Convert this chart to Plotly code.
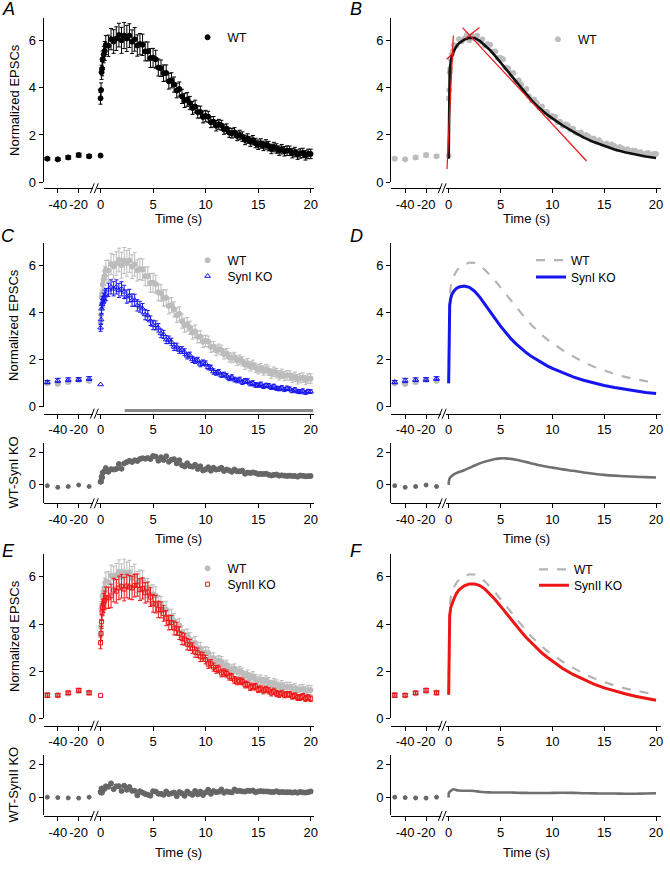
import plotly.graph_objects as go

W, H = 670, 870
FONT = "Arial, 'Liberation Sans', Helvetica, sans-serif"

# ---------------- data ----------------
t_pre = [-50, -40, -30, -20, -10]
wt_pre = [1.00, 0.97, 1.05, 1.15, 1.10]
wt_pre_err = [0.05, 0.05, 0.07, 0.08, 0.06]
ko1_pre = [1.05, 1.12, 1.15, 1.16, 1.20]
ko1_pre_err = [0.07, 0.09, 0.08, 0.08, 0.08]
ko2_pre = [0.98, 0.98, 1.08, 1.19, 1.08]
ko2_pre_err = [0.09, 0.07, 0.07, 0.08, 0.08]

t_zero = [0]
wt_zero = [1.13]
ko1_zero = [0.95]
ko2_zero = [0.97]

t_post = [0, 0.05, 0.1, 0.15, 0.2, 0.3, 0.4] + [0.5 + 0.25 * i for i in range(79)]

wt = [3.55, 3.90, 4.65, 4.80, 5.20, 5.40, 5.55,
      5.80, 5.77,
      6.05, 5.95, 6.07, 6.22,
      6.00, 6.20, 6.08, 6.20,
      5.94, 6.04, 5.78, 5.84,
      5.81, 5.53, 5.53, 5.25,
      5.26, 5.20, 4.85, 4.82,
      4.61, 4.62, 4.27, 4.31,
      4.13, 3.88, 3.94, 3.63,
      3.46, 3.50, 3.35, 3.14,
      3.20, 2.97, 2.97, 2.76,
      2.80, 2.77, 2.54, 2.56,
      2.39, 2.45, 2.41, 2.23,
      2.27, 2.10, 2.07, 2.11,
      1.96, 2.00, 1.93, 1.79,
      1.85, 1.72, 1.78, 1.66,
      1.59, 1.64, 1.54, 1.60,
      1.53, 1.41, 1.49, 1.43,
      1.34, 1.40, 1.31, 1.34,
      1.33, 1.23, 1.28, 1.17,
      1.22, 1.24, 1.14, 1.20,
      1.20]
wt_err = [0.25, 0.30, 0.30, 0.30, 0.35, 0.35, 0.40,
          0.40, 0.45,
          0.45, 0.50, 0.50, 0.50,
          0.55, 0.55, 0.55, 0.50,
          0.50, 0.50, 0.45, 0.45,
          0.45, 0.40, 0.40, 0.40,
          0.40, 0.38, 0.36, 0.35,
          0.35, 0.34, 0.33, 0.32,
          0.32, 0.31, 0.30, 0.30,
          0.30, 0.29, 0.28, 0.27,
          0.27, 0.26, 0.25, 0.25,
          0.24, 0.23, 0.23, 0.22,
          0.22, 0.21, 0.21, 0.20,
          0.20, 0.20, 0.20, 0.20,
          0.20, 0.20, 0.20, 0.20,
          0.20, 0.20, 0.20, 0.20,
          0.20, 0.20, 0.20, 0.20,
          0.20, 0.20, 0.20, 0.20,
          0.20, 0.20, 0.20, 0.20,
          0.20, 0.20, 0.20, 0.20,
          0.20, 0.20, 0.20, 0.20,
          0.20]

ko1 = [3.35, 3.70, 4.15, 4.35, 4.45, 4.60, 4.70,
       4.76, 4.96,
       5.08, 5.00, 5.08, 4.93,
       5.00, 4.87, 4.67, 4.71,
       4.52, 4.52, 4.30, 4.24,
       4.16, 3.91, 3.87, 3.65,
       3.47, 3.45, 3.35, 3.11,
       3.07, 2.85, 2.84, 2.75,
       2.54, 2.55, 2.41, 2.41,
       2.32, 2.16, 2.19, 2.01,
       1.96, 1.98, 1.82, 1.87,
       1.84, 1.68, 1.66, 1.50,
       1.44, 1.48, 1.35, 1.37,
       1.32, 1.21, 1.26, 1.16,
       1.12, 1.16, 1.05, 1.10,
       1.09, 0.99, 1.01, 0.93,
       0.92, 0.96, 0.87, 0.91,
       0.90, 0.83, 0.87, 0.79,
       0.77, 0.81, 0.74, 0.79,
       0.76, 0.68, 0.73, 0.66,
       0.64, 0.68, 0.61, 0.66,
       0.65]
ko1_err = [0.15, 0.20, 0.20, 0.20, 0.22, 0.22, 0.25,
           0.25, 0.28,
           0.30, 0.30, 0.30, 0.30,
           0.30, 0.28, 0.28, 0.27,
           0.26, 0.25, 0.24, 0.23,
           0.22, 0.22, 0.21, 0.20,
           0.20, 0.19, 0.18, 0.18,
           0.17, 0.17, 0.16, 0.16,
           0.15, 0.15, 0.14, 0.14,
           0.14, 0.13, 0.13, 0.13,
           0.12, 0.12, 0.12, 0.12,
           0.11, 0.11, 0.11, 0.11,
           0.10, 0.10, 0.10, 0.10,
           0.10, 0.10, 0.10, 0.10,
           0.10, 0.10, 0.10, 0.10,
           0.10, 0.10, 0.10, 0.10,
           0.09, 0.09, 0.09, 0.09,
           0.09, 0.09, 0.09, 0.09,
           0.09, 0.09, 0.09, 0.09,
           0.08, 0.08, 0.08, 0.08,
           0.08, 0.08, 0.08, 0.08,
           0.08]

ko2 = [3.20, 3.60, 4.10, 4.50, 4.70, 4.90, 5.00,
       5.12, 5.11,
       5.19, 5.44, 5.39, 5.53,
       5.60, 5.48, 5.61, 5.56,
       5.53, 5.63, 5.65, 5.46,
       5.51, 5.32, 5.36, 5.14,
       4.88, 4.84, 4.62, 4.60,
       4.45, 4.25, 4.06, 4.06,
       3.83, 3.80, 3.61, 3.38,
       3.36, 3.14, 3.11, 2.98,
       2.80, 2.78, 2.61, 2.61,
       2.49, 2.30, 2.32, 2.17,
       2.07, 2.10, 1.92, 1.94,
       1.90, 1.77, 1.76, 1.62,
       1.57, 1.59, 1.56, 1.43,
       1.44, 1.32, 1.35, 1.34,
       1.22, 1.25, 1.17, 1.23,
       1.17, 1.08, 1.15, 1.05,
       1.02, 1.07, 0.99, 1.02,
       1.01, 0.93, 0.96, 0.88,
       0.88, 0.93, 0.84, 0.88,
       0.83]
ko2_err = [0.25, 0.30, 0.30, 0.35, 0.35, 0.40, 0.40,
           0.45, 0.45,
           0.50, 0.50, 0.50, 0.50,
           0.50, 0.50, 0.50, 0.50,
           0.50, 0.48, 0.47, 0.46,
           0.45, 0.43, 0.42, 0.40,
           0.38, 0.37, 0.35, 0.34,
           0.33, 0.32, 0.31, 0.30,
           0.29, 0.28, 0.27, 0.26,
           0.25, 0.24, 0.23, 0.22,
           0.21, 0.20, 0.20, 0.19,
           0.18, 0.18, 0.17, 0.17,
           0.16, 0.16, 0.16, 0.16,
           0.15, 0.15, 0.15, 0.15,
           0.15, 0.15, 0.14, 0.14,
           0.14, 0.14, 0.14, 0.14,
           0.13, 0.13, 0.13, 0.13,
           0.13, 0.13, 0.13, 0.13,
           0.13, 0.12, 0.12, 0.12,
           0.12, 0.12, 0.12, 0.12,
           0.12, 0.12, 0.12, 0.12,
           0.12]

# fitted curves (B, D, F)
t_fit = [0, 0.02, 0.05, 0.1, 0.2, 0.3, 0.5, 0.75, 1.0, 1.5, 2.0, 2.5, 3.0, 3.5, 4.0,
         4.5, 5.0, 5.5, 6.0, 6.5, 7.0, 7.5, 8.0, 8.5, 9.0, 9.5, 10, 11, 12, 13, 14,
         15, 16, 17, 18, 19, 20]
wt_fit = [1.0, 3.5, 4.3, 4.7, 5.1, 5.3, 5.55, 5.75, 5.88, 6.03, 6.11, 6.1, 5.98, 5.8,
          5.58, 5.33, 5.06, 4.78, 4.5, 4.22, 3.95, 3.7, 3.46, 3.24, 3.04, 2.86, 2.7,
          2.4, 2.14, 1.9, 1.7, 1.53, 1.39, 1.27, 1.17, 1.09, 1.03]
ko1_fit = [1.0, 3.3, 4.0, 4.3, 4.6, 4.75, 4.9, 5.02, 5.08, 5.12, 5.06, 4.9, 4.65, 4.36,
           4.05, 3.73, 3.42, 3.14, 2.89, 2.67, 2.47, 2.29, 2.13, 1.99, 1.86, 1.74, 1.63,
           1.44, 1.27, 1.13, 1.01, 0.91, 0.82, 0.74, 0.67, 0.61, 0.57]
ko2_fit = [1.0, 3.2, 4.0, 4.35, 4.7, 4.85, 5.05, 5.3, 5.45, 5.62, 5.7, 5.7, 5.63, 5.48,
           5.27, 5.03, 4.76, 4.48, 4.2, 3.93, 3.67, 3.42, 3.19, 2.97, 2.77, 2.59, 2.42,
           2.11, 1.86, 1.64, 1.45, 1.29, 1.15, 1.04, 0.94, 0.85, 0.77]

# tangent lines drawn on panel B
tan_rise_t = [-0.16, 0.45]
tan_rise_v = [0.56, 6.2]
tan_rise_cross_t = [-0.2, 0.55]
tan_rise_cross_v = [5.2, 5.5]
tan_peak_t = [1.63, 2.97]
tan_peak_v = [6.08, 6.54]
tan_decay_t = [1.34, 13.3]
tan_decay_v = [6.54, 0.9]

# significance bar in C (time span, s)
sig_span = [2.3, 20.25]

for arr in (wt, wt_err, ko1, ko1_err, ko2, ko2_err):
    assert len(arr) == len(t_post)
for arr in (wt_fit, ko1_fit, ko2_fit):
    assert len(arr) == len(t_fit)

diff1_pre = [a - b for a, b in zip(wt_pre, ko1_pre)]
diff2_pre = [a - b for a, b in zip(wt_pre, ko2_pre)]
diff1 = [a - b for a, b in zip(wt, ko1)]
diff2 = [a - b for a, b in zip(wt, ko2)]
diff1_fit = [a - b for a, b in zip(wt_fit, ko1_fit)]
diff2_fit = [a - b for a, b in zip(wt_fit, ko2_fit)]

# ---------------- colours ----------------
BLACK = "#000000"
GRAY = "#bcbcbc"
DGRAY = "#666666"
BLUE = "#1515f0"
RED = "#ee1515"

# ---------------- geometry ----------------
def fx(p):
    return p / W


def fy(p):
    return 1 - p / H


COLS = {
    "L": dict(pre=(43, 93), post=(97, 315), post_range=[-0.31, 20.28], mid=179),
    "R": dict(pre=(393, 443), post=(448, 665), post_range=[-0.29, 20.48], mid=529),
}
TOP_R = [0, 6.95]
BOT_R = [-1.1, 2.6]
ROWS = [
    # name, col, top px, bottom px, range, x-line px, yticks
    ("A", "L", 18, 184, TOP_R, 190, [0, 2, 4, 6]),
    ("B", "R", 18, 184, TOP_R, 190, [0, 2, 4, 6]),
    ("Ct", "L", 245, 410.7, TOP_R, 417.5, [0, 2, 4, 6]),
    ("Dt", "R", 245, 410.7, TOP_R, 417.5, [0, 2, 4, 6]),
    ("Cb", "L", 447, 507.3, BOT_R, 508, [0, 2]),
    ("Db", "R", 447, 507.3, BOT_R, 508, [0, 2]),
    ("Et", "L", 559.6, 725, TOP_R, 732.5, [0, 2, 4, 6]),
    ("Ft", "R", 559.6, 725, TOP_R, 732.5, [0, 2, 4, 6]),
    ("Eb", "L", 762, 823, BOT_R, 823.5, [0, 2]),
    ("Fb", "R", 762, 823, BOT_R, 823.5, [0, 2]),
]
ROW_IDX = {r[0]: i + 1 for i, r in enumerate(ROWS)}


def axname(letter, i):
    return letter if i == 1 else f"{letter}{i}"


def axkey(letter, i):
    return f"{letter}axis" if i == 1 else f"{letter}axis{i}"


def refs(row, part):
    k = ROW_IDX[row]
    xi = 2 * k - 1 if part == "pre" else 2 * k
    return dict(xaxis=axname("x", xi), yaxis=axname("y", k))


fig = go.Figure()


def add(row, part, **kw):
    kw.setdefault("showlegend", False)
    fig.add_trace(go.Scatter(**kw, **refs(row, part)))


def err(arr, color, w=2):
    return dict(type="data", array=arr, color=color, thickness=1, width=w, visible=True)


def mk(color, symbol="circle", size=5, lw=1):
    return dict(color=color, symbol=symbol, size=size, line=dict(color=color, width=lw))


# ---------- Panel A ----------
add("A", "pre", x=t_pre, y=wt_pre, mode="markers", marker=mk(BLACK), error_y=err(wt_pre_err, BLACK, 3))
add("A", "post", x=t_zero, y=wt_zero, mode="markers", marker=mk(BLACK))
add("A", "post", x=t_post, y=wt, mode="markers", marker=mk(BLACK), error_y=err(wt_err, BLACK),
    name="WT", showlegend=True, legend="legend")

# ---------- Panel B ----------
add("B", "pre", x=t_pre, y=wt_pre, mode="markers", marker=mk(GRAY), error_y=err(wt_pre_err, GRAY, 3))
add("B", "post", x=t_zero, y=wt_zero, mode="markers", marker=mk(GRAY))
add("B", "post", x=t_post, y=wt, mode="markers", marker=mk(GRAY, size=5),
    name="WT", showlegend=True, legend="legend2")
add("B", "post", x=t_fit, y=wt_fit, mode="lines", line=dict(color="#111111", width=2.6))
for tx, ty in ((tan_rise_t, tan_rise_v), (tan_rise_cross_t, tan_rise_cross_v),
               (tan_peak_t, tan_peak_v), (tan_decay_t, tan_decay_v)):
    add("B", "post", x=tx, y=ty, mode="lines", line=dict(color=RED, width=1.2))

# ---------- Panel C ----------
add("Ct", "pre", x=t_pre, y=wt_pre, mode="markers", marker=mk(GRAY), error_y=err(wt_pre_err, GRAY, 3))
add("Ct", "pre", x=t_pre, y=ko1_pre, mode="markers", marker=mk(BLUE, "triangle-up-open", 5),
    error_y=err(ko1_pre_err, BLUE, 3))
add("Ct", "post", x=t_post, y=wt, mode="markers", marker=mk(GRAY), error_y=err(wt_err, GRAY),
    name="WT", showlegend=True, legend="legend3")
add("Ct", "post", x=t_zero, y=ko1_zero, mode="markers", marker=mk(BLUE, "triangle-up-open", 5))
add("Ct", "post", x=t_post, y=ko1, mode="markers", marker=mk(BLUE, "triangle-up-open", 5),
    error_y=err(ko1_err, BLUE), name="SynI KO", showlegend=True, legend="legend4")
add("Cb", "pre", x=t_pre, y=diff1_pre, mode="markers", marker=mk(DGRAY, size=4))
add("Cb", "post", x=t_post, y=diff1, mode="markers", marker=mk(DGRAY, size=5))

# ---------- Panel D ----------
add("Dt", "pre", x=t_pre, y=wt_pre, mode="markers", marker=mk(GRAY), error_y=err(wt_pre_err, GRAY, 3))
add("Dt", "pre", x=t_pre, y=ko1_pre, mode="markers", marker=mk(BLUE, "triangle-up-open", 5),
    error_y=err(ko1_pre_err, BLUE, 3))
add("Dt", "post", x=t_fit, y=wt_fit, mode="lines", line=dict(color="#b4b4b4", width=2.2, dash="dash"),
    name="WT", showlegend=True, legend="legend5")
add("Dt", "post", x=t_fit, y=ko1_fit, mode="lines", line=dict(color=BLUE, width=3),
    name="SynI KO", showlegend=True, legend="legend6")
add("Db", "pre", x=t_pre, y=diff1_pre, mode="markers", marker=mk(DGRAY, size=4))
add("Db", "post", x=t_fit, y=diff1_fit, mode="lines",
    line=dict(color="#707070", width=2.6, shape="spline", smoothing=0.8))

# ---------- Panel E ----------
add("Et", "pre", x=t_pre, y=wt_pre, mode="markers", marker=mk(GRAY), error_y=err(wt_pre_err, GRAY, 3))
add("Et", "pre", x=t_pre, y=ko2_pre, mode="markers", marker=mk(RED, "square-open", 4),
    error_y=err(ko2_pre_err, RED, 3))
add("Et", "post", x=t_post, y=wt, mode="markers", marker=mk(GRAY), error_y=err(wt_err, GRAY),
    name="WT", showlegend=True, legend="legend7")
add("Et", "post", x=t_zero, y=ko2_zero, mode="markers", marker=mk(RED, "square-open", 4))
add("Et", "post", x=t_post, y=ko2, mode="markers", marker=mk(RED, "square-open", 4),
    error_y=err(ko2_err, RED), name="SynII KO", showlegend=True, legend="legend8")
add("Eb", "pre", x=t_pre, y=diff2_pre, mode="markers", marker=mk(DGRAY, size=4))
add("Eb", "post", x=t_post, y=diff2, mode="markers", marker=mk(DGRAY, size=5))

# ---------- Panel F ----------
add("Ft", "pre", x=t_pre, y=wt_pre, mode="markers", marker=mk(GRAY), error_y=err(wt_pre_err, GRAY, 3))
add("Ft", "pre", x=t_pre, y=ko2_pre, mode="markers", marker=mk(RED, "square-open", 4),
    error_y=err(ko2_pre_err, RED, 3))
add("Ft", "post", x=t_fit, y=wt_fit, mode="lines", line=dict(color="#b4b4b4", width=2.2, dash="dash"),
    name="WT", showlegend=True, legend="legend9")
add("Ft", "post", x=t_fit, y=ko2_fit, mode="lines", line=dict(color=RED, width=3),
    name="SynII KO", showlegend=True, legend="legend10")
add("Fb", "pre", x=t_pre, y=diff2_pre, mode="markers", marker=mk(DGRAY, size=4))
add("Fb", "post", x=t_fit, y=diff2_fit, mode="lines",
    line=dict(color="#707070", width=2.6, shape="spline", smoothing=0.8))

# ---------------- axes ----------------
common = dict(showline=True, linecolor="black", linewidth=1, ticks="outside", ticklen=4,
              tickwidth=1, tickcolor="black", showgrid=False, zeroline=False,
              tickfont=dict(size=13, color="black", family=FONT), fixedrange=True)
layout = {}
shapes = []
for name, col, top, bot, yr, xline, yt in ROWS:
    k = ROW_IDX[name]
    c = COLS[col]
    xi_pre, xi_post = 2 * k - 1, 2 * k
    layout[axkey("y", k)] = dict(common, domain=[fy(bot), fy(top)], range=yr,
                                 anchor=axname("x", xi_pre), tickvals=yt)
    layout[axkey("x", xi_pre)] = dict(common, domain=[fx(c["pre"][0]), fx(c["pre"][1])],
                                      range=[-53.5, -6], anchor="free", position=fy(xline),
                                      tickvals=[-40, -20], ticktext=["-40", "-20"])
    layout[axkey("x", xi_post)] = dict(common, domain=[fx(c["post"][0]), fx(c["post"][1])],
                                       range=c["post_range"], anchor="free", position=fy(xline),
                                       tickvals=[0, 5, 10, 15, 20])
    # axis break marks "//"
    cx = (c["pre"][1] + c["post"][0]) / 2
    for dx in (-5, -1):
        shapes.append(dict(type="line", xref="paper", yref="paper",
                           x0=fx(cx + dx), y0=fy(xline + 5), x1=fx(cx + dx + 4), y1=fy(xline - 5),
                           line=dict(color="black", width=1)))

# significance bar in C
k = ROW_IDX["Ct"]
shapes.append(dict(type="line", xref=axname("x", 2 * k), yref="paper",
                   x0=sig_span[0], x1=sig_span[1], y0=fy(414.2), y1=fy(414.2),
                   line=dict(color="#8a8a8a", width=3)))

annotations = []
# panel letters
for letter, (x, y) in {"A": (7.5, 9), "B": (358, 9), "C": (7.5, 238), "D": (358, 238),
                       "E": (7.5, 556), "F": (358, 556)}.items():
    annotations.append(dict(text=f"<i>{letter}</i>", x=fx(x), y=fy(y), xref="paper", yref="paper",
                            showarrow=False, xanchor="center", yanchor="middle",
                            font=dict(size=18, family=FONT, color="black")))
# x titles
for col, y in (("L", 221), ("R", 221), ("L", 543), ("R", 543), ("L", 860), ("R", 860)):
    annotations.append(dict(text="Time (s)", x=fx(COLS[col]["mid"]), y=fy(y), xref="paper",
                            yref="paper", showarrow=False, xanchor="center", yanchor="middle",
                            font=dict(size=13, family=FONT, color="black")))
# y titles
for txt, y in (("Normalized EPSCs", 101), ("Normalized EPSCs", 328), ("WT-SynI KO", 477),
               ("Normalized EPSCs", 642), ("WT-SynII KO", 792)):
    annotations.append(dict(text=txt, x=fx(13), y=fy(y), xref="paper", yref="paper",
                            showarrow=False, textangle=-90, xanchor="center", yanchor="middle",
                            font=dict(size=13, family=FONT, color="black")))

# legends: one per entry, positioned at the symbol centre
leg_common = dict(bgcolor="rgba(0,0,0,0)", borderwidth=0, xanchor="left", yanchor="top",
                  font=dict(size=12, family=FONT, color="black"), itemwidth=30,
                  tracegroupgap=0)
leg_pos = {"legend": (208, 38), "legend2": (561, 40),
           "legend3": (208, 263), "legend4": (208, 279),
           "legend5": (554, 263), "legend6": (554, 280),
           "legend7": (208, 574), "legend8": (208, 590),
           "legend9": (557, 575), "legend10": (557, 591)}
for key, (x, y) in leg_pos.items():
    layout[key] = dict(leg_common, x=fx(x - 20), y=fy(y - 15))

fig.update_layout(width=W, height=H, margin=dict(l=0, r=0, t=0, b=0),
                  plot_bgcolor="white", paper_bgcolor="white", showlegend=True,
                  font=dict(family=FONT, color="black"), shapes=shapes,
                  annotations=annotations, **layout)

fig.write_html("out.html", config={"displayModeBar": False},
               post_script="document.body.style.margin='0px';document.body.style.overflow='hidden';")
